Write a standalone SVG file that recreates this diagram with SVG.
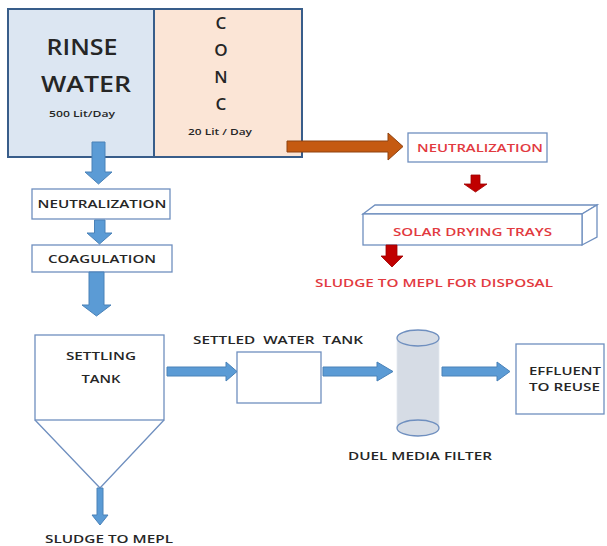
<svg xmlns="http://www.w3.org/2000/svg" width="607" height="546" viewBox="0 0 607 546">
<defs>
<style>
.t{font-family:"Open Sans","Liberation Sans",sans-serif;font-weight:600;fill:#262626;text-anchor:middle}
.r{fill:#e23a3f}
.box{fill:#ffffff;stroke:#6f8fbf;stroke-width:1.3}
.ba{fill:#5b9bd5;stroke:#4a82b8;stroke-width:1}
.ra{fill:#c00000;stroke:#a00000;stroke-width:0.8}
.oa{fill:#c55a11;stroke:#8f4210;stroke-width:1}
.top{stroke:#385d8a;stroke-width:2}
</style>
</defs>
<rect width="607" height="546" fill="#ffffff"/>

<g id="rinse">
<rect class="top" x="8" y="9" width="146" height="148" fill="#dce6f2"/>
<text class="t" x="82" y="55" font-size="21" textLength="71" lengthAdjust="spacingAndGlyphs">RINSE</text>
<text class="t" x="86" y="92" font-size="21" textLength="90" lengthAdjust="spacingAndGlyphs">WATER</text>
<text class="t" x="82" y="117" font-size="8.5" textLength="66" lengthAdjust="spacingAndGlyphs">500 Lit/Day</text>
</g>
<g id="conc">
<rect class="top" x="154" y="9" width="148" height="148" fill="#fbe5d6"/>
<text class="t" x="221" y="29" font-size="17">C</text>
<text class="t" x="221" y="56" font-size="17">O</text>
<text class="t" x="221" y="83" font-size="17">N</text>
<text class="t" x="221" y="110" font-size="17">C</text>
<text class="t" x="220" y="135" font-size="8.5" textLength="64" lengthAdjust="spacingAndGlyphs">20 Lit / Day</text>
</g>

<g id="neutralization1">
<rect class="box" x="32" y="189" width="138" height="30"/>
<text class="t" x="102" y="208" font-size="10.5" textLength="129" lengthAdjust="spacingAndGlyphs">NEUTRALIZATION</text>
</g>
<g id="coagulation">
<rect class="box" x="32" y="245" width="140" height="27"/>
<text class="t" x="102" y="263" font-size="10.5" textLength="108" lengthAdjust="spacingAndGlyphs">COAGULATION</text>
</g>
<g id="settling-tank">
<rect class="box" x="35" y="335" width="129" height="85"/>
<polyline points="35,420 100,488 164,420" fill="none" stroke="#6f8fbf" stroke-width="1.3"/>
<text class="t" x="101" y="360" font-size="11.5" textLength="70" lengthAdjust="spacingAndGlyphs">SETTLING</text>
<text class="t" x="101" y="383" font-size="11.5" textLength="39" lengthAdjust="spacingAndGlyphs">TANK</text>
</g>
<g id="sludge-mepl">
<text class="t" x="109" y="543" font-size="11" textLength="128" lengthAdjust="spacingAndGlyphs">SLUDGE TO MEPL</text>
</g>
<g id="settled-water-tank">
<rect class="box" x="237" y="352" width="84" height="51"/>
<text class="t" x="278" y="344" font-size="11" textLength="170" lengthAdjust="spacingAndGlyphs" style="white-space:pre">SETTLED  WATER  TANK</text>
</g>
<g id="dual-media-filter">
<rect x="397" y="338" width="42" height="90" fill="#d6dce5" stroke="#e3e8ef" stroke-width="0.8"/>
<ellipse cx="418" cy="428" rx="21" ry="8" fill="#d6dce5" stroke="#6f8fbf" stroke-width="1.3"/>
<ellipse cx="418" cy="338" rx="21" ry="8" fill="#d6dce5" stroke="#6f8fbf" stroke-width="1.3"/>
<text class="t" x="420" y="460" font-size="11" textLength="144" lengthAdjust="spacingAndGlyphs">DUEL MEDIA FILTER</text>
</g>
<g id="effluent">
<rect class="box" x="516" y="344" width="88" height="70"/>
<text class="t" x="565" y="375" font-size="11" textLength="72" lengthAdjust="spacingAndGlyphs">EFFLUENT</text>
<text class="t" x="564.5" y="391" font-size="11" textLength="71" lengthAdjust="spacingAndGlyphs">TO REUSE</text>
</g>

<g id="neutralization2">
<rect class="box" x="408" y="133" width="139" height="29"/>
<text class="t r" x="480" y="152" font-size="11" textLength="126" lengthAdjust="spacingAndGlyphs">NEUTRALIZATION</text>
</g>
<g id="solar-drying-trays">
<polygon class="box" points="363,214 375,205 597,205 582,214"/>
<polygon class="box" points="582,214 597,205 597,237 582,245"/>
<rect class="box" x="363" y="214" width="219" height="31"/>
<text class="t r" x="472.5" y="236" font-size="11.5" textLength="159" lengthAdjust="spacingAndGlyphs">SOLAR DRYING TRAYS</text>
</g>
<g id="sludge-disposal">
<text class="t r" x="434" y="287" font-size="11.5" textLength="238" lengthAdjust="spacingAndGlyphs">SLUDGE TO MEPL FOR DISPOSAL</text>
</g>

<g id="connectors">
<polygon class="ba" points="92,142 105,142 105,172 112,172 98.5,184 85,172 92,172"/>
<polygon class="ba" points="94.5,220 105,220 105,233 112,233 99.5,244 87,233 94.5,233"/>
<polygon class="ba" points="89,272 104,272 104,305 111,305 96.5,316 82,305 89,305"/>
<polygon class="ba" points="97,488 103,488 103,515 108,515 100,525 92,515 97,515"/>
<polygon class="ba" points="167,367 226,367 226,362 237,371.5 226,381 226,376 167,376"/>
<polygon class="ba" points="323,367 377,367 377,362 393,371.5 377,381 377,376 323,376"/>
<polygon class="ba" points="442,367 497,367 497,362 510,371.5 497,381 497,376 442,376"/>
<polygon class="oa" points="287,141 388,141 388,133 403,146.5 388,160 388,152 287,152"/>
<polygon class="ra" points="471,175 480,175 480,184 487,184 475.5,192 464,184 471,184"/>
<polygon class="ra" points="386,245 397,245 397,256 403,256 392,267 381,256 386,256"/>
</g>
</svg>
